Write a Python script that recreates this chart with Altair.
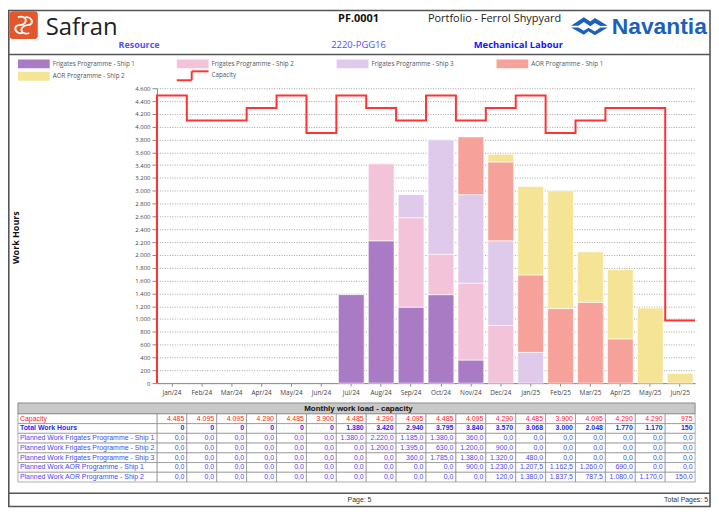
import altair as alt
import pandas as pd

# ---------------- data ----------------
months = ["Jan/24", "Feb/24", "Mar/24", "Apr/24", "May/24", "Jun/24", "Jul/24", "Aug/24", "Sep/24",
          "Oct/24", "Nov/24", "Dec/24", "Jan/25", "Feb/25", "Mar/25", "Apr/25", "May/25", "Jun/25"]
capacity = [4485, 4095, 4095, 4290, 4485, 3900, 4485, 4290, 4095, 4485, 4095, 4290, 4485, 3900, 4095, 4290, 4290, 975]
frig_ship1 = [0, 0, 0, 0, 0, 0, 1380, 2220, 1185, 1380, 360, 0, 0, 0, 0, 0, 0, 0]
frig_ship2 = [0, 0, 0, 0, 0, 0, 0, 1200, 1395, 630, 1200, 900, 0, 0, 0, 0, 0, 0]
frig_ship3 = [0, 0, 0, 0, 0, 0, 0, 0, 360, 1785, 1380, 1320, 480, 0, 0, 0, 0, 0]
aor_ship1 = [0, 0, 0, 0, 0, 0, 0, 0, 0, 0, 900, 1230, 1207.5, 1162.5, 1260, 690, 0, 0]
aor_ship2 = [0, 0, 0, 0, 0, 0, 0, 0, 0, 0, 0, 120, 1380, 1837.5, 787.5, 1080, 1170, 150]
series_names = ["Frigates Programme - Ship 1", "Frigates Programme - Ship 2", "Frigates Programme - Ship 3",
                "AOR Programme - Ship 1", "AOR Programme - Ship 2"]
series_values = [frig_ship1, frig_ship2, frig_ship3, aor_ship1, aor_ship2]
series_colors = ["#a97bc4", "#f3c3da", "#dfcaec", "#f6a199", "#f6e496"]
y_ticks = list(range(0, 4601, 200))
row_labels = ["Capacity", "Total Work Hours"] + ["Planned Work " + s for s in series_names]

# ---------------- layout ----------------
W, H = 542, 297          # plot area
OX, OY = 158, 87         # page position of plot area
SANS = "Open Sans"
ARIAL = "Liberation Sans"
RED = "#ff2424"
BLUE_B = "#1f1fff"
BLUE = "#4848ff"


def X(p):
    return p - OX


def Y(p):
    return p - OY


ONE = alt.Data(values=[{"k": 1}])


def text_at(s, x, y, size, color="#222", weight="normal", align="left", font=SANS, baseline="middle"):
    return alt.Chart(ONE).mark_text(text=s, fontSize=size, color=color, fontWeight=weight, align=align,
                                    font=font, baseline=baseline).encode(x=alt.value(X(x)), y=alt.value(Y(y)))


def rect_at(x1, y1, x2, y2, fill=None, stroke=None, sw=1.0, radius=0):
    kw = {}
    if fill is not None:
        kw["fill"] = fill
    else:
        kw["filled"] = False
    if stroke is not None:
        kw["stroke"] = stroke
        kw["strokeWidth"] = sw
    if radius:
        kw["cornerRadius"] = radius
    return alt.Chart(ONE).mark_rect(**kw).encode(
        x=alt.value(X(x1)), x2=alt.value(X(x2)), y=alt.value(Y(y1)), y2=alt.value(Y(y2)))


def rule_at(x1, y1, x2, y2, color="#555", sw=1.0):
    return alt.Chart(ONE).mark_rule(color=color, strokeWidth=sw).encode(
        x=alt.value(X(x1)), x2=alt.value(X(x2)), y=alt.value(Y(y1)), y2=alt.value(Y(y2)))


layers = []

# ---------------- frame ----------------
layers.append(rect_at(8.8, 8.8, 715, 508.2, stroke="#555", sw=1.6))
layers.append(rule_at(8, 53, 715, 53, "#555", 1.5))
layers.append(rule_at(8, 495, 715, 495, "#555", 1.5))

# ---------------- header ----------------
layers.append(rect_at(9.5, 9.5, 38, 37.5, fill="#e2572c", radius=3))
swirl = ("M-0.55,-0.75 C-0.1,-0.95 0.45,-0.6 0.1,-0.2 C-0.2,0.15 -0.55,-0.15 -0.75,0.15 "
         "C-0.95,0.5 -0.5,0.95 -0.05,0.7 M0.75,-0.15 C0.95,-0.5 0.5,-0.95 0.05,-0.7 "
         "M0.55,0.75 C0.1,0.95 -0.45,0.6 -0.1,0.2 C0.2,-0.15 0.55,0.15 0.75,-0.15")
layers.append(alt.Chart(ONE).mark_point(shape=swirl, size=440, filled=False, color="white", strokeWidth=1.8,
                                        opacity=1).encode(x=alt.value(X(23.7)), y=alt.value(Y(23.5))))
layers.append(text_at("Safran", 46, 33, 24, "#222", baseline="alphabetic"))
layers.append(text_at("Resource", 140, 43, 9, "#5252ff", "bold", "center"))
layers.append(text_at("PF.0001", 361, 17.5, 11, "#111", "bold", "center"))
layers.append(text_at("2220-PGG16", 361, 43, 9.5, "#4d4dff", "normal", "center"))
layers.append(text_at("Portfolio - Ferrol Shypyard", 498, 17.5, 11, "#222", "normal", "center"))
layers.append(text_at("Mechanical Labour", 522, 43, 9.5, "#1414ff", "bold", "center"))
nav_sym = ("M-1,0 L-0.3,-0.46 L0.05,-0.22 L0.3,-0.42 L1,0 L0.6,0.02 L0.3,-0.14 L0.05,0.03 L-0.3,-0.2 "
           "L-0.6,0 Z M-1,0.1 L-0.6,0.1 L-0.3,0.28 L-0.05,0.12 L0.3,0.32 L0.6,0.1 L1,0.1 "
           "L0.3,0.52 L-0.05,0.3 L-0.3,0.5 Z")
layers.append(alt.Chart(ONE).mark_point(shape=nav_sym, size=1369, filled=True, color="#1d5fbd",
                                        opacity=1).encode(x=alt.value(X(593.5)), y=alt.value(Y(24))))
layers.append(text_at("Navantia", 616, 32, 23, "#1d5fbd", "bold", "left", ARIAL, "alphabetic"))

# ---------------- legend ----------------
leg_cols = [18, 178, 339, 500]
leg_rows = [62.5, 75]
for i, (name, col) in enumerate(zip(series_names, series_colors)):
    cx = leg_cols[i % 4]
    cy = leg_rows[i // 4]
    layers.append(rect_at(cx, cy - 4.5, cx + 32, cy + 4.5, fill=col))
    layers.append(text_at(name, cx + 35, cy, 6.3, "#555"))
cx, cy = leg_cols[1], leg_rows[1]
layers.append(rule_at(cx, cy + 4, cx + 15, cy + 4, "#ff3333", 2))
layers.append(rule_at(cx + 15, cy + 4, cx + 15, cy - 5, "#ff3333", 2))
layers.append(rule_at(cx + 15, cy - 5, cx + 32, cy - 5, "#ff3333", 2))
layers.append(text_at("Capacity", cx + 35, cy - 1, 6.3, "#555"))

# ---------------- stacked bars ----------------
rows = []
for si, (name, vals) in enumerate(zip(series_names, series_values)):
    for m, v in zip(months, vals):
        if v > 0:
            rows.append({"month": m, "series": name, "value": v, "sidx": si})
bars_df = pd.DataFrame(rows)

y_scale = alt.Scale(domain=[0, 4600], nice=False)
bars = alt.Chart(bars_df).mark_bar(stroke="white", strokeWidth=0.6).encode(
    x=alt.X("month:N", sort=months, scale=alt.Scale(domain=months, paddingInner=0.14, paddingOuter=0.07),
            title=None,
            axis=alt.Axis(labelAngle=0, labelFontSize=6.5, labelFont=SANS, labelColor="#444", tickSize=3,
                          tickColor="#888", domainColor="#888", labelPadding=3, grid=False)),
    y=alt.Y("value:Q", stack="zero", scale=y_scale,
            axis=alt.Axis(values=y_ticks, labelExpr="replace(format(datum.value, ','), ',', '.')",
                          labelFontSize=6, labelFont=SANS, labelColor="#444", tickSize=5, tickColor="#888",
                          domainColor="#888", labelPadding=2, grid=True, gridColor="#8c8c8c",
                          gridDash=[1, 1.5], gridWidth=0.8, title="Work Hours", titleFont=SANS,
                          titleFontSize=9, titleFontWeight="bold", titleColor="#111", titleX=X(16),
                          titleY=150, titleAngle=270, titleBaseline="middle", titleAlign="center")),
    color=alt.Color("series:N", scale=alt.Scale(domain=series_names, range=series_colors), legend=None),
    order=alt.Order("sidx:Q"),
)
layers.append(bars)

# ---------------- capacity step line ----------------
cap_pts = [{"seq": 0, "xi": 0, "cap": 0}]
cap_pts += [{"seq": i + 1, "xi": i, "cap": c} for i, c in enumerate(capacity)]
cap_pts += [{"seq": len(capacity) + 1, "xi": len(capacity), "cap": capacity[-1]}]
line = alt.Chart(pd.DataFrame(cap_pts)).mark_line(interpolate="step-after", color="#ff3333", strokeWidth=2).encode(
    x=alt.X("xi:Q", scale=alt.Scale(domain=[0, len(months)], nice=False), axis=None),
    y=alt.Y("cap:Q", scale=y_scale, axis=None),
    order="seq:Q",
)
layers.append(line)

# ---------------- table ----------------
def fmt_int(v):
    return f"{int(v + 0.5):,}".replace(",", ".")


def fmt_dec(v):
    return f"{v:,.1f}".replace(",", "#").replace(".", ",").replace("#", ".")


totals = [sum(vals[i] for vals in series_values) for i in range(len(months))]
cells = []
for i, m in enumerate(months):
    cells.append({"row": row_labels[0], "month": m, "label": fmt_int(capacity[i]), "kind": "cap"})
    cells.append({"row": row_labels[1], "month": m, "label": fmt_int(totals[i]), "kind": "tot"})
    for r, vals in enumerate(series_values):
        cells.append({"row": row_labels[2 + r], "month": m, "label": fmt_dec(vals[i]), "kind": "pl"})
cells_df = pd.DataFrame(cells)
lab_df = pd.DataFrame({"row": row_labels, "kind": ["cap", "tot"] + ["pl"] * len(series_names)})

TB_TOP, ROW_H = 415, 9.8
tx = alt.X("month:N", sort=months, scale=alt.Scale(domain=months, paddingInner=0, paddingOuter=0), axis=None)
ty = alt.Y("row:N", sort=row_labels,
           scale=alt.Scale(domain=row_labels, range=[Y(TB_TOP), Y(TB_TOP + ROW_H * len(row_labels))],
                           paddingInner=0, paddingOuter=0), axis=None)

layers.append(rect_at(18, 404, 700, TB_TOP, fill="#c9c9c9", stroke="#777", sw=0.8))
layers.append(text_at("Monthly work load - capacity", 361, 409.7, 8, "#111", "bold", "center", ARIAL))
layers.append(alt.Chart(cells_df).mark_rect(fill="white", stroke="#8a8a8a", strokeWidth=0.7).encode(x=tx, y=ty))
layers.append(alt.Chart(lab_df).mark_rect(fill="white", stroke="#8a8a8a", strokeWidth=0.7).encode(
    x=alt.value(X(18)), x2=alt.value(X(158)), y=ty))

styles = {"cap": (RED, "normal"), "tot": (BLUE_B, "bold"), "pl": (BLUE, "normal")}
for kind, (colr, wt) in styles.items():
    layers.append(alt.Chart(cells_df[cells_df["kind"] == kind]).mark_text(
        align="right", baseline="middle", dx=12.5, fontSize=7, font=ARIAL, color=colr, fontWeight=wt
    ).encode(x=tx, y=ty, text="label:N"))
    layers.append(alt.Chart(lab_df[lab_df["kind"] == kind]).mark_text(
        align="left", baseline="middle", fontSize=7, font=ARIAL, color=colr, fontWeight=wt
    ).encode(x=alt.value(X(20)), y=ty, text="row:N"))

# ---------------- footer ----------------
layers.append(text_at("Page: 5", 362, 502, 7, "#333", "normal", "center", ARIAL))
layers.append(text_at("Total Pages: 5", 713, 502, 7, "#333", "normal", "right", ARIAL))

chart = alt.layer(*layers).resolve_scale(x="independent", y="independent").properties(
    width=W, height=H,
    padding={"left": OX - 8, "top": OY - 8, "right": 708 - (OX - 8) - W, "bottom": 501 - (OY - 8) - H},
    autosize=alt.AutoSizeParams(type="none"),
    background="white",
).configure_view(strokeWidth=0)

chart.save("out.html", embed_options={"renderer": "svg", "actions": False})
